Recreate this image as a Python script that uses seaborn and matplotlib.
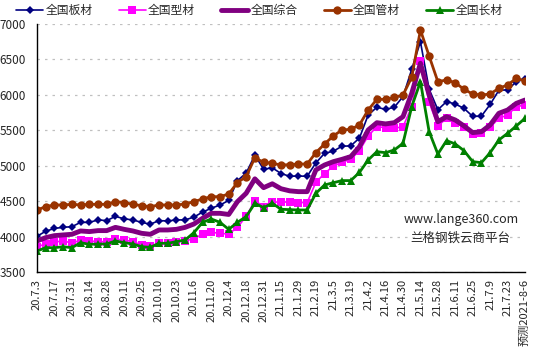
import numpy as np
import pandas as pd
import seaborn as sns
import matplotlib.pyplot as plt

tick_labels = ['20.7.3', '20.7.17', '20.7.31', '20.8.14', '20.8.28', '20.9.11', '20.9.25',
               '20.10.10', '20.10.23', '20.11.6', '20.11.20', '20.12.4', '20.12.18', '20.12.31',
               '21.1.15', '21.1.29', '21.2.19', '21.3.5', '21.3.19', '21.4.2', '21.4.16',
               '21.4.30', '21.5.14', '21.5.28', '21.6.11', '21.6.25', '21.7.9', '21.7.23',
               '预测2021-8-6']

banc = [4005, 4075, 4115, 4130, 4140, 4200, 4200, 4235, 4225, 4285, 4250, 4235, 4200, 4175,
        4225, 4220, 4235, 4235, 4275, 4345, 4400, 4445, 4510, 4790, 4895, 5150, 4950, 4970,
        4890, 4850, 4855, 4850, 5040, 5175, 5205, 5275, 5280, 5390, 5715, 5825, 5795, 5825,
        5975, 6360, 6750, 6080, 5790, 5905, 5870, 5810, 5695, 5700, 5865, 6065, 6070, 6185, 6225]
xingc = [3857, 3895, 3919, 3942, 3905, 3952, 3938, 3928, 3928, 3961, 3952, 3928, 3881, 3867,
         3905, 3905, 3928, 3942, 3966, 4036, 4060, 4046, 4036, 4130, 4285, 4507, 4422, 4485,
         4490, 4484, 4480, 4480, 4766, 4890, 4996, 5048, 5090, 5212, 5420, 5551, 5537, 5528,
         5551, 5833, 6478, 5895, 5561, 5669, 5607, 5551, 5443, 5457, 5542, 5669, 5716, 5833, 5857]
zongh = [3938, 3985, 4013, 4023, 4032, 4079, 4070, 4084, 4084, 4130, 4102, 4079, 4046, 4032,
         4093, 4093, 4102, 4130, 4177, 4258, 4328, 4328, 4312, 4493, 4611, 4815, 4690, 4745,
         4675, 4645, 4634, 4634, 4940, 5010, 5057, 5090, 5128, 5268, 5504, 5607, 5590, 5607,
         5692, 6022, 6446, 5998, 5621, 5692, 5645, 5561, 5467, 5480, 5575, 5740, 5786, 5880, 5927]
guanc = [4375, 4422, 4446, 4446, 4455, 4446, 4455, 4455, 4455, 4493, 4480, 4455, 4436, 4422,
         4446, 4446, 4446, 4460, 4493, 4530, 4563, 4563, 4601, 4763, 4845, 5113, 5048, 5034,
         5010, 5015, 5024, 5024, 5184, 5307, 5420, 5504, 5514, 5575, 5786, 5937, 5937, 5965,
         5998, 6248, 6915, 6548, 6186, 6210, 6172, 6078, 6012, 5998, 6012, 6093, 6139, 6233, 6196]
changc = [3796, 3843, 3843, 3857, 3843, 3914, 3890, 3895, 3895, 3938, 3914, 3895, 3857, 3848,
          3905, 3905, 3928, 3952, 4055, 4201, 4248, 4201, 4102, 4201, 4281, 4469, 4408, 4470,
          4385, 4380, 4375, 4375, 4611, 4728, 4760, 4790, 4790, 4905, 5081, 5198, 5184, 5222,
          5316, 5833, 6186, 5480, 5165, 5354, 5307, 5212, 5057, 5043, 5184, 5363, 5457, 5561, 5669]

series = [
    ('全国板材', banc, '#000080', 'D', 4, 1.2),
    ('全国型材', xingc, '#FF00FF', 's', 6, 1.2),
    ('全国综合', zongh, '#800080', None, 0, 3.5),
    ('全国管材', guanc, '#993300', 'o', 6, 2.0),
    ('全国长材', changc, '#008000', '^', 6, 2.0),
]

sns.set_style('white')
plt.rcParams['font.family'] = ['Noto Sans CJK SC', 'DejaVu Sans']

fig = plt.figure(figsize=(5.35, 3.53), dpi=100)
ax = fig.add_axes([0.0692, 0.2295, 0.9121, 0.7025])

idx = np.arange(len(banc))
for name, vals, color, marker, ms, lw in series:
    sns.lineplot(x=idx, y=vals, ax=ax, color=color, marker=marker, markersize=ms,
                 markeredgewidth=0, linewidth=lw, label=name)

ax.set_xlim(0, len(banc) - 1)
ax.set_ylim(3500, 7000)
ax.set_yticks(range(3500, 7001, 500))
ax.set_xticks(range(0, len(banc), 2))
ax.set_xticklabels(tick_labels, rotation=90, fontsize=8)
ax.tick_params(axis='y', labelsize=8.5, direction='in', length=3, pad=8)
ax.tick_params(axis='x', direction='in', length=4, pad=5)
ax.grid(axis='y', color='#c0c0c0', linestyle=(0, (2, 4)), linewidth=0.9)
ax.set_xlabel('')
ax.set_ylabel('')
for s in ['top', 'right']:
    ax.spines[s].set_visible(False)
for s in ['left', 'bottom']:
    ax.spines[s].set_color('black')
    ax.spines[s].set_linewidth(1.0)

ax.legend(loc='upper left', bbox_to_anchor=(-0.05, 1.095), ncol=5, frameon=False,
          fontsize=8.5, handlelength=2.3, columnspacing=2.2, handletextpad=0.2,
          borderaxespad=0, borderpad=0.3)

ax.text(0.869, 0.21, 'www.lange360.com', transform=ax.transAxes, ha='center',
        va='center', fontsize=9)
ax.text(0.867, 0.137, '兰格钢铁云商平台', transform=ax.transAxes, ha='center',
        va='center', fontsize=9)

plt.savefig('out.png', dpi=100)
